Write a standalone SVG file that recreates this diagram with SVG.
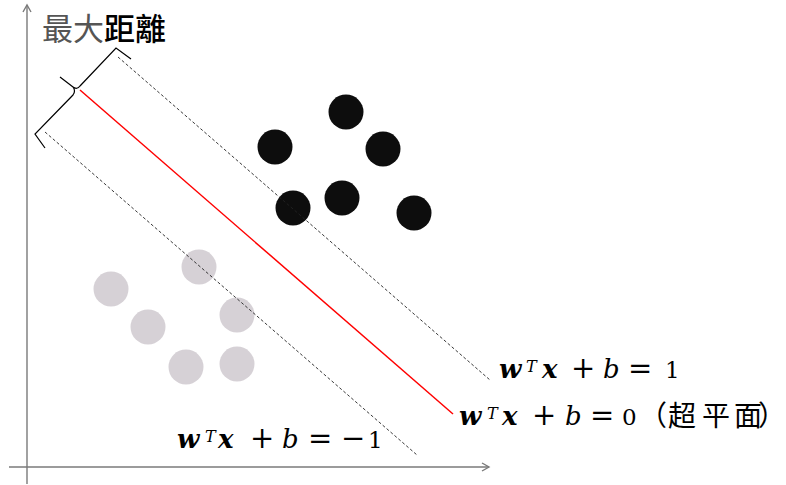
<svg xmlns="http://www.w3.org/2000/svg" width="786" height="485" viewBox="0 0 786 485">
<style>
.axis{stroke:#7a7a7a;stroke-width:1.4;fill:none}
.dash{stroke:#222;stroke-width:0.9;stroke-dasharray:3 2.2;fill:none}
.hyper{stroke:#ff0000;stroke-width:1.5;fill:none}
.pos{fill:#0d0d0d}
.neg{fill:#d6d1d6}
.math{font-family:"DejaVu Serif","Liberation Serif",serif;font-size:23px;fill:#000}
.bi{font-weight:bold;font-style:italic;font-size:26px}
.it{font-style:italic;font-size:26px}
.op{font-size:29px}
.sup{font-style:italic;font-size:16px}
.cjk{font-family:"Noto Sans CJK SC","Noto Sans CJK JP",sans-serif;fill:#000}
</style>
<rect width="786" height="485" fill="#fff"/>
<g id="axes">
<line class="axis" x1="27" y1="5" x2="27" y2="484"/>
<polyline class="axis" points="23,12 27,5 31,12"/>
<line class="axis" x1="9" y1="467" x2="489" y2="467"/>
<polyline class="axis" points="482,463 489,467 482,471"/>
</g>
<g id="negatives">
<circle class="neg" cx="199" cy="267" r="17.5"/>
<circle class="neg" cx="111" cy="289" r="17.5"/>
<circle class="neg" cx="237" cy="315" r="17.5"/>
<circle class="neg" cx="148" cy="327" r="17.5"/>
<circle class="neg" cx="186" cy="367" r="17.5"/>
<circle class="neg" cx="237" cy="364" r="17.5"/>
</g>
<g id="positives">
<circle class="pos" cx="346" cy="112" r="17.5"/>
<circle class="pos" cx="275" cy="147" r="17.5"/>
<circle class="pos" cx="383" cy="149" r="17.5"/>
<circle class="pos" cx="293" cy="208" r="17.5"/>
<circle class="pos" cx="342" cy="198" r="17.5"/>
<circle class="pos" cx="414" cy="213" r="17.5"/>
</g>
<g id="connectors">
<line class="hyper" x1="80" y1="90" x2="453" y2="414"/>
<line class="dash" x1="118" y1="57" x2="490" y2="380"/>
<line class="dash" x1="45" y1="132" x2="417" y2="455"/>
</g>
<g id="brace">
<path d="M131,59 L116,48 L80,86 Q77,90 73,87 L60,77 M73,87 Q76,91 73,95 L35,134 L45,148" fill="none" stroke="#000" stroke-width="1.2" stroke-linejoin="miter"/>
</g>
<g id="title">
<text class="cjk" x="42" y="40" font-size="31"><tspan fill="#555">最大</tspan><tspan font-weight="500">距離</tspan></text>
</g>
<g id="label-plus1">
<text class="math" y="378"><tspan class="bi" x="499">w</tspan><tspan class="sup" x="526" y="372">T</tspan><tspan class="bi" x="542" y="378">x</tspan><tspan class="op" x="571">+</tspan><tspan class="it" x="603">b</tspan><tspan class="op" x="628">=</tspan><tspan x="665">1</tspan></text>
</g>
<g id="label-zero">
<text class="math" y="425"><tspan class="bi" x="459">w</tspan><tspan class="sup" x="487" y="419">T</tspan><tspan class="bi" x="502" y="425">x</tspan><tspan class="op" x="532">+</tspan><tspan class="it" x="565">b</tspan><tspan class="op" x="590">=</tspan><tspan x="622">0</tspan></text>
<text class="cjk" y="426" font-size="28" x="639 668 702 734 758">（超平面）</text>
</g>
<g id="label-minus1">
<text class="math" y="448"><tspan class="bi" x="177">w</tspan><tspan class="sup" x="205" y="442">T</tspan><tspan class="bi" x="218" y="448">x</tspan><tspan class="op" x="250">+</tspan><tspan class="it" x="282">b</tspan><tspan class="op" x="308">=</tspan><tspan class="op" x="341">−</tspan><tspan x="368">1</tspan></text>
</g>
</svg>
